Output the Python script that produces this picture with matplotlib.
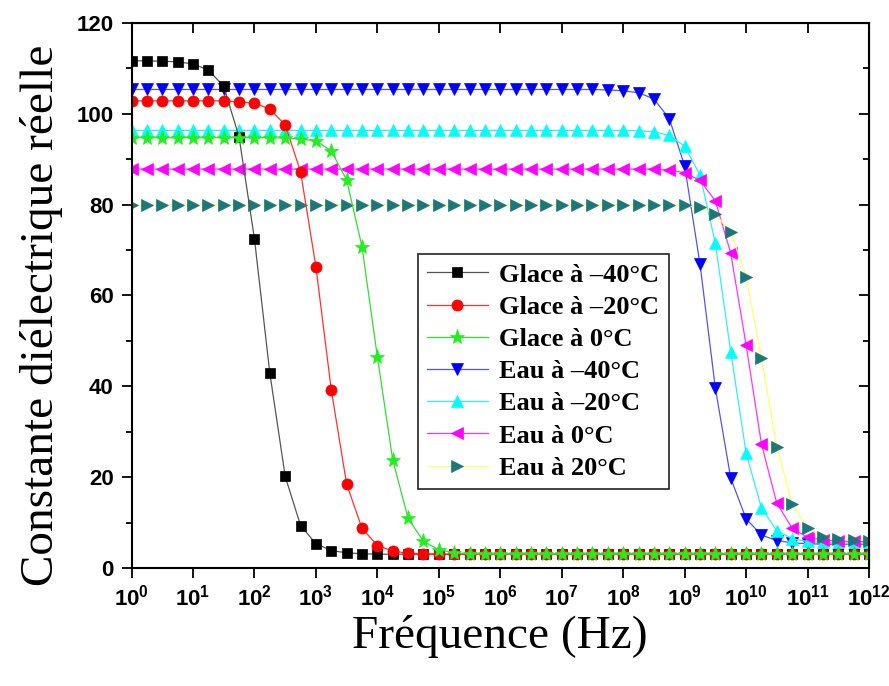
import numpy as np
import matplotlib
matplotlib.use("Agg")
import matplotlib.pyplot as plt

plt.rcParams['mathtext.fontset'] = 'custom'
plt.rcParams['mathtext.rm'] = 'Liberation Sans:bold'
plt.rcParams['mathtext.it'] = 'Liberation Sans:bold'
plt.rcParams['mathtext.bf'] = 'Liberation Sans:bold'

# ---- data (frequency exponents: 4 points per decade, 10^0 .. 10^12) ----
log_freq = np.arange(0, 12.01, 0.25)
freq = 10.0 ** log_freq

glace_m40 = [111.6, 111.6, 111.5, 111.4, 110.9, 109.6, 106.0, 94.8, 72.4, 42.9,
             20.2, 9.4, 5.4, 3.9, 3.4, 3.2] + [3.1] * 33
glace_m20 = [102.8] * 7 + [102.6, 102.3, 101.0, 97.5, 87.2, 66.3, 39.2, 18.5, 8.8,
                           5.0, 3.8, 3.3, 3.2] + [3.1] * 29
glace_0 = [94.7] * 10 + [94.6, 94.4, 94.0, 91.8, 85.4, 70.7, 46.5, 23.8, 11.0, 5.9,
                         4.1, 3.4, 3.2] + [3.1] * 26
eau_m40 = [105.3] * 31 + [105.2, 105.0, 104.6, 103.2, 98.9, 88.5, 66.9, 39.6, 19.8,
                          10.9, 7.3, 6.1, 5.6, 5.4] + [5.3] * 4
eau_m20 = [96.3] * 33 + [96.2, 96.0, 95.2, 92.8, 86.5, 71.5, 47.6, 25.4, 13.2, 8.3,
                         6.5, 5.9, 5.7] + [5.6] * 3
eau_0 = [87.8] * 35 + [87.6, 87.0, 85.3, 80.8, 69.3, 49.1, 27.3, 14.3, 8.8, 6.8,
                       6.2, 6.0, 5.9, 5.9]
eau_20 = [80.0] * 36 + [79.8, 79.4, 77.9, 73.9, 64.1, 46.2, 26.7, 14.1, 8.8, 6.9,
                        6.4, 6.2, 6.1]

labels = ["Glace à –40°C", "Glace à –20°C", "Glace à 0°C",
          "Eau à –40°C", "Eau à –20°C", "Eau à 0°C", "Eau à 20°C"]
y_ticks = [0, 20, 40, 60, 80, 100, 120]
x_ticks_exp = list(range(0, 13))

# ---- styles ----
styles = [
    dict(marker='s', color='#000000', line='#555555', ms=7),
    dict(marker='o', color='#ff0000', line='#ff3030', ms=8),
    dict(marker='*', color='#22ee22', line='#33dd33', ms=11),
    dict(marker='v', color='#0000ff', line='#5555dd', ms=9),
    dict(marker='^', color='#00ffff', line='#33eeee', ms=9),
    dict(marker='<', color='#ff00ff', line='#ff33ff', ms=9),
    dict(marker='>', color='#1a7878', line='#ffff66', ms=9),
]
series = [glace_m40, glace_m20, glace_0, eau_m40, eau_m20, eau_0, eau_20]

fig = plt.figure(figsize=(8.89, 6.86), dpi=100)
ax = fig.add_axes([0.148, 0.1716, 0.8295, 0.7954])

handles = [None] * 7
draw_order = [3, 4, 5, 6, 0, 1, 2]
for i in draw_order:
    st = styles[i]
    h, = ax.plot(freq, series[i], linestyle='-', linewidth=0.9, color=st['line'],
                 marker=st['marker'], markersize=st['ms'],
                 markerfacecolor=st['color'], markeredgecolor=st['color'],
                 markeredgewidth=0.5, label=labels[i])
    handles[i] = h

ax.set_xscale('log')
ax.set_xlim(1, 1e12)
ax.set_ylim(0, 120)
ax.set_xticks([10.0 ** e for e in x_ticks_exp])
ax.set_xticklabels([r'$\mathrm{10^{%d}}$' % e for e in x_ticks_exp])
ax.xaxis.set_minor_locator(matplotlib.ticker.NullLocator())
ax.set_yticks(y_ticks)
ax.set_yticks([10, 30, 50, 70, 90, 110], minor=True)
for lab in ax.get_yticklabels():
    lab.set_fontfamily('Liberation Sans')
    lab.set_fontweight('bold')
ax.tick_params(axis='both', which='major', direction='out', length=7, width=1.3,
               labelsize=16, pad=4)
ax.tick_params(axis='both', which='minor', direction='out', length=4, width=1.3)
ax.tick_params(axis='y', which='major', pad=6)
for sp in ax.spines.values():
    sp.set_linewidth(1.5)

# mirrored inward ticks on top and right
axt = ax.secondary_xaxis('top')
axt.set_xticks([10.0 ** e for e in x_ticks_exp])
axt.xaxis.set_minor_locator(matplotlib.ticker.NullLocator())
axt.tick_params(direction='in', length=7, width=1.3, labeltop=False)
axt.set_xticklabels([])
axr = ax.secondary_yaxis('right')
axr.set_yticks(y_ticks)
axr.set_yticks([10, 30, 50, 70, 90, 110], minor=True)
axr.tick_params(which='major', direction='in', length=7, width=1.3, labelright=False)
axr.tick_params(which='minor', direction='in', length=4, width=1.3)
axr.set_yticklabels([])

leg = ax.legend(handles=handles, labels=labels, loc='upper left',
                bbox_to_anchor=(0.388, 0.576), borderaxespad=0,
                prop=dict(family='Liberation Serif', weight='bold', size=19),
                frameon=True, fancybox=False, framealpha=1, edgecolor='#222222',
                handlelength=2.3, handletextpad=0.45, labelspacing=0.33,
                borderpad=0.35)
leg.get_frame().set_linewidth(1.2)

fig.text(500 / 889, 1 - 636 / 686, "Fréquence (Hz)", ha='center', va='center',
         family='Liberation Serif', fontsize=34)
fig.text(42 / 889, 1 - 315 / 686, "Constante diélectrique réelle", ha='center',
         va='center', rotation=90, family='Liberation Serif', fontsize=34)

fig.savefig('out.png', dpi=100)
